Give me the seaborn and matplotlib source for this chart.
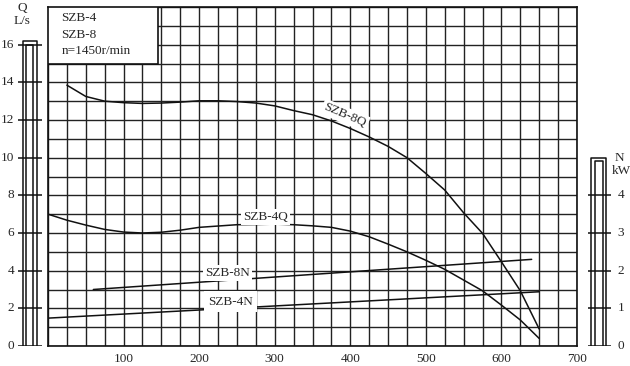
import matplotlib
matplotlib.use("Agg")
import matplotlib.pyplot as plt
from matplotlib.patches import Rectangle
import numpy as np
import pandas as pd
import seaborn as sns

# datos (caudal Q en L/s, potencia N en kW)
flow_q = [0, 25, 50, 75, 100, 125, 150, 175, 200, 225, 250, 275, 300, 325,
          350, 375, 400, 425, 450, 475, 500, 525, 550, 575, 600, 625, 650]
szb4_q = [7.0, 6.68, 6.42, 6.19, 6.05, 6.0, 6.04, 6.15, 6.3, 6.37, 6.44, 6.45, 6.47,
          6.44, 6.38, 6.3, 6.1, 5.8, 5.41, 5.0, 4.55, 4.07, 3.5, 2.93, 2.17, 1.38, 0.4]
flow_8q = flow_q[1:]
szb8_q = [13.85, 13.25, 13.0, 12.92, 12.88, 12.9, 12.95, 13.02, 13.02, 12.98, 12.9,
          12.75, 12.5, 12.28, 11.95, 11.55, 11.1, 10.6, 10.0, 9.16, 8.28, 7.07,
          5.98, 4.47, 2.93, 0.9]
flow_8n = [60, 640]
szb8_n = [1.5, 2.3]
flow_4n = [0, 650]
szb4_n = [0.74, 1.44]

x_ticks = [100, 200, 300, 400, 500, 600, 700]
q_ticks = [0, 2, 4, 6, 8, 10, 12, 14, 16]
n_ticks = [0, 1, 2, 3, 4]

sns.set_style("white")
plt.rcParams['font.family'] = ['Liberation Serif', 'DejaVu Serif']
plt.rcParams['font.size'] = 9.5

W, H = 630, 366
fig = plt.figure(figsize=(6.3, 3.66), dpi=100)
b = (H - 346) / H
h = (346 - 7) / H
ax = fig.add_axes([48 / W, b, (577 - 48) / W, h])
ax.set_xlim(0, 700)
ax.set_ylim(0, 18)

# cuadricula
ax.set_xticks(x_ticks)
ax.set_xticks(np.arange(0, 701, 25), minor=True)
ax.set_yticks(np.arange(0, 19, 1))
ax.set_yticklabels([])
ax.tick_params(axis='both', which='both', length=0)
ax.tick_params(axis='x', pad=5)
ax.grid(True, which='both', color='#222222', linewidth=1.0)
ax.set_axisbelow(True)
for sp in ax.spines.values():
    sp.set_color('#111111')
    sp.set_linewidth(1.2)

# recuadro con datos de la bomba
ax.add_patch(Rectangle((0, 15), 145, 3, facecolor='white', edgecolor='#111111',
                       linewidth=1.2, zorder=3))
ax.text(18, 17.4, "SZB-4", ha='left', va='center', zorder=4)
ax.text(18, 16.5, "SZB-8", ha='left', va='center', zorder=4)
ax.text(18, 15.65, "n=1450r/min", ha='left', va='center', zorder=4)

# curvas Q
df4q = pd.DataFrame({'x': flow_q, 'y': szb4_q})
df8q = pd.DataFrame({'x': flow_8q, 'y': szb8_q})
sns.lineplot(data=df4q, x='x', y='y', ax=ax, color='#111111', linewidth=1.1, zorder=2)
sns.lineplot(data=df8q, x='x', y='y', ax=ax, color='#111111', linewidth=1.1, zorder=2)
ax.set_xlabel("")
ax.set_ylabel("")

box = dict(facecolor='white', edgecolor='none', pad=1.5)
ax.text(288, 6.85, "SZB-4Q", ha='center', va='center', bbox=box, zorder=4)
ax.text(393, 12.25, "SZB-8Q", ha='center', va='center', rotation=-23,
        bbox=box, zorder=4)

# curvas N en eje secundario (kW)
axn = ax.twinx()
axn.set_ylim(0, 9)
axn.axis('off')
df8n = pd.DataFrame({'x': flow_8n, 'y': szb8_n})
df4n = pd.DataFrame({'x': flow_4n, 'y': szb4_n})
sns.lineplot(data=df8n, x='x', y='y', ax=axn, color='#111111', linewidth=1.1)
sns.lineplot(data=df4n, x='x', y='y', ax=axn, color='#111111', linewidth=1.1)
axn.set_xlim(0, 700)
axn.text(238, 1.94, "SZB-8N", ha='center', va='center', bbox=box, zorder=4)
axn.text(242, 1.18, "SZB-4N", ha='center', va='center',
         bbox=dict(facecolor='white', edgecolor='none', pad=3), zorder=4)

# barra de escala izquierda (Q, L/s)
axl = fig.add_axes([0, b, 48 / W, h])
axl.set_xlim(0, 48)
axl.set_ylim(0, 18)
axl.axis('off')
axl.plot([22.5, 22.5, 36.5, 36.5], [0, 16.2, 16.2, 0], color='#111111', lw=1.1)
axl.plot([26, 26, 33, 33], [0, 16.0, 16.0, 0], color='#111111', lw=1.1)
axl.hlines(q_ticks, 18, 42, color='#111111', lw=1.1)
for v in q_ticks:
    axl.text(14, v, str(v), ha='right', va='center')

# barra de escala derecha (N, kW)
axr = fig.add_axes([577 / W, b, 53 / W, h])
axr.set_xlim(577, 630)
axr.set_ylim(0, 9)
axr.axis('off')
axr.plot([591, 591, 606, 606], [0, 5.0, 5.0, 0], color='#111111', lw=1.1)
axr.plot([594.5, 594.5, 602.5, 602.5], [0, 4.92, 4.92, 0], color='#111111', lw=1.1)
axr.hlines(n_ticks, 588, 611, color='#111111', lw=1.1)
for v in n_ticks:
    axr.text(621, v, str(v), ha='center', va='center')

fig.text(22 / W, 1 - 8 / H, "Q", ha='center', va='center')
fig.text(22 / W, 1 - 21 / H, "L/s", ha='center', va='center')
fig.text(619 / W, 1 - 158 / H, "N", ha='center', va='center')
fig.text(621 / W, 1 - 171 / H, "kW", ha='center', va='center')

fig.savefig("out.png", dpi=100)
